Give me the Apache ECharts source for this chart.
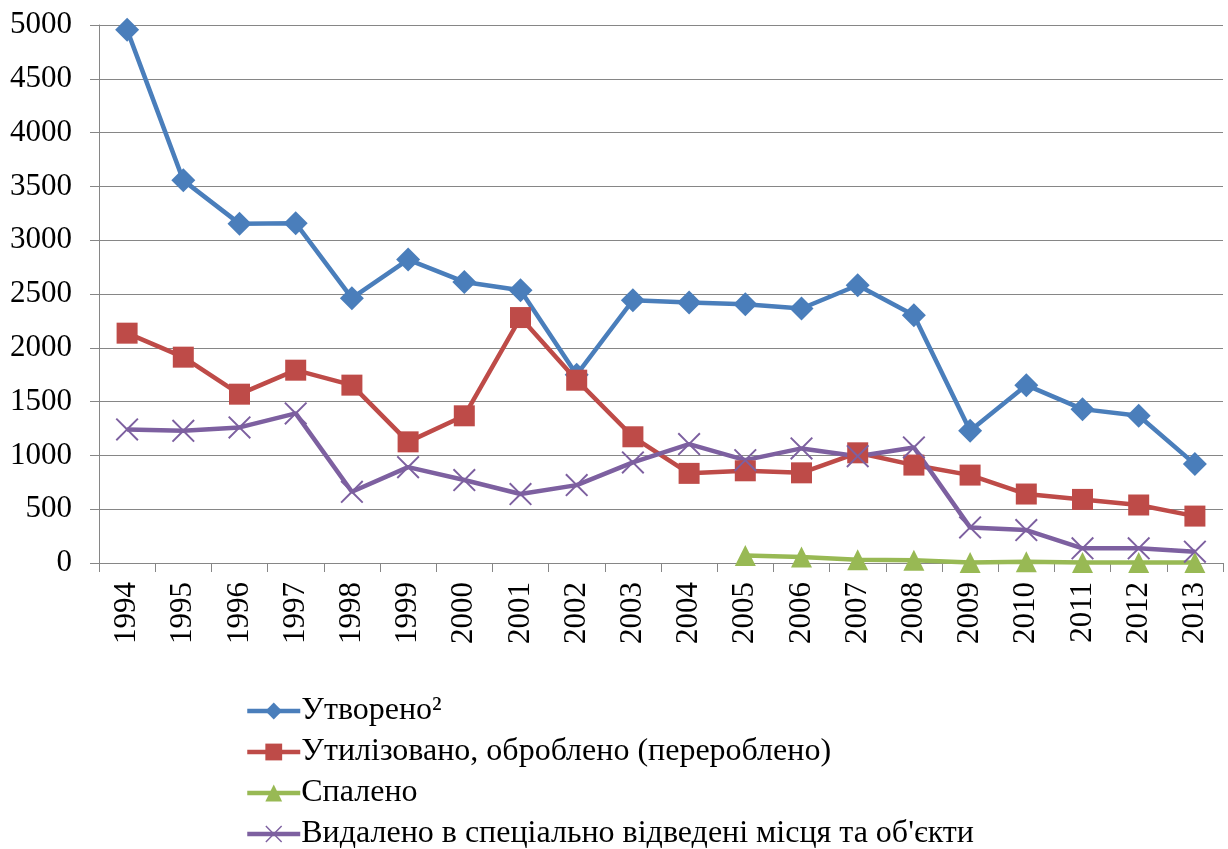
<!DOCTYPE html>
<html>
<head>
<meta charset="utf-8">
<script src="https://cdn.jsdelivr.net/npm/echarts@6/dist/echarts.min.js"></script>
<style>html,body{margin:0;padding:0;background:#fff;}#chart{width:1228px;height:849px;}</style>
</head>
<body>
<div id="chart"></div>
<script>
const years = ['1994','1995','1996','1997','1998','1999','2000','2001','2002','2003','2004','2005','2006','2007','2008','2009','2010','2011','2012','2013'];
const created = [4955, 3556, 3154, 3158, 2461, 2820, 2612, 2535, 1750, 2442, 2420, 2405, 2365, 2581, 2303, 1229, 1653, 1430, 1368, 919];
const utilized = [2136, 1913, 1569, 1792, 1653, 1126, 1368, 2281, 1699, 1173, 833, 857, 838, 1024, 910, 817, 641, 591, 539, 436];
const burned = [null, null, null, null, null, null, null, null, null, null, null, 70, 55, 30, 25, 5, 12, 5, 5, 5];
const removed = [1241, 1229, 1260, 1390, 662, 891, 771, 641, 724, 935, 1105, 956, 1065, 993, 1074, 331, 306, 136, 136, 105];
const seriesNames = ['Утворено²', 'Утилізовано, оброблено (перероблено)', 'Спалено', 'Видалено в спеціально відведені місця та об\'єкти'];

const font = '"Liberation Serif", "Times New Roman", serif';
const crossPath = 'path://M0,0.6 L0.6,0 L5,4.4 L9.4,0 L10,0.6 L5.6,5 L10,9.4 L9.4,10 L5,5.6 L0.6,10 L0,9.4 L4.4,5 Z';

const chart = echarts.init(document.getElementById('chart'), null, {renderer: 'canvas'});
function mk(name, data, color, symbol, size, width) {
  return {
    name: name, type: 'line', data: data,
    symbol: symbol, symbolSize: size,
    lineStyle: {color: color, width: width},
    itemStyle: {color: color},
    connectNulls: false,
    animation: false
  };
}
chart.setOption({
  animation: false,
  backgroundColor: '#fff',
  grid: {left: 99, right: 5, top: 25, bottom: 286},
  xAxis: {
    type: 'category', data: years, boundaryGap: true,
    axisLine: {show: true, lineStyle: {color: '#868686', width: 1}},
    axisTick: {show: true, length: 9, interval: 0, lineStyle: {color: '#868686'}},
    axisLabel: {rotate: 90, interval: 0, margin: 19, color: '#000', fontFamily: font, fontSize: 31}
  },
  yAxis: {
    type: 'value', min: 0, max: 5000, interval: 500,
    axisLine: {show: true, lineStyle: {color: '#868686', width: 1}},
    axisTick: {show: true, length: 9, lineStyle: {color: '#868686'}},
    splitLine: {show: true, lineStyle: {color: '#868686', width: 1}},
    axisLabel: {margin: 27, color: '#000', fontFamily: font, fontSize: 31, formatter: function (v) { return String(v); }}
  },
  legend: {
    orient: 'vertical', left: 245, top: 695, height: 160, padding: 0, itemGap: 9,
    itemWidth: 53, itemHeight: 21,
    lineStyle: {width: 4.5},
    textStyle: {color: '#000', fontFamily: font, fontSize: 32, padding: [0,0,0,-4]},
    data: seriesNames
  },
  series: [
    mk(seriesNames[0], created, '#4A7EBB', 'diamond', 24, 4.5),
    mk(seriesNames[1], utilized, '#BE4B48', 'rect', 21, 4.5),
    mk(seriesNames[2], burned, '#98B954', 'triangle', 21, 4.5),
    mk(seriesNames[3], removed, '#7D60A0', crossPath, 23, 4.5)
  ]
});
</script>
</body>
</html>
